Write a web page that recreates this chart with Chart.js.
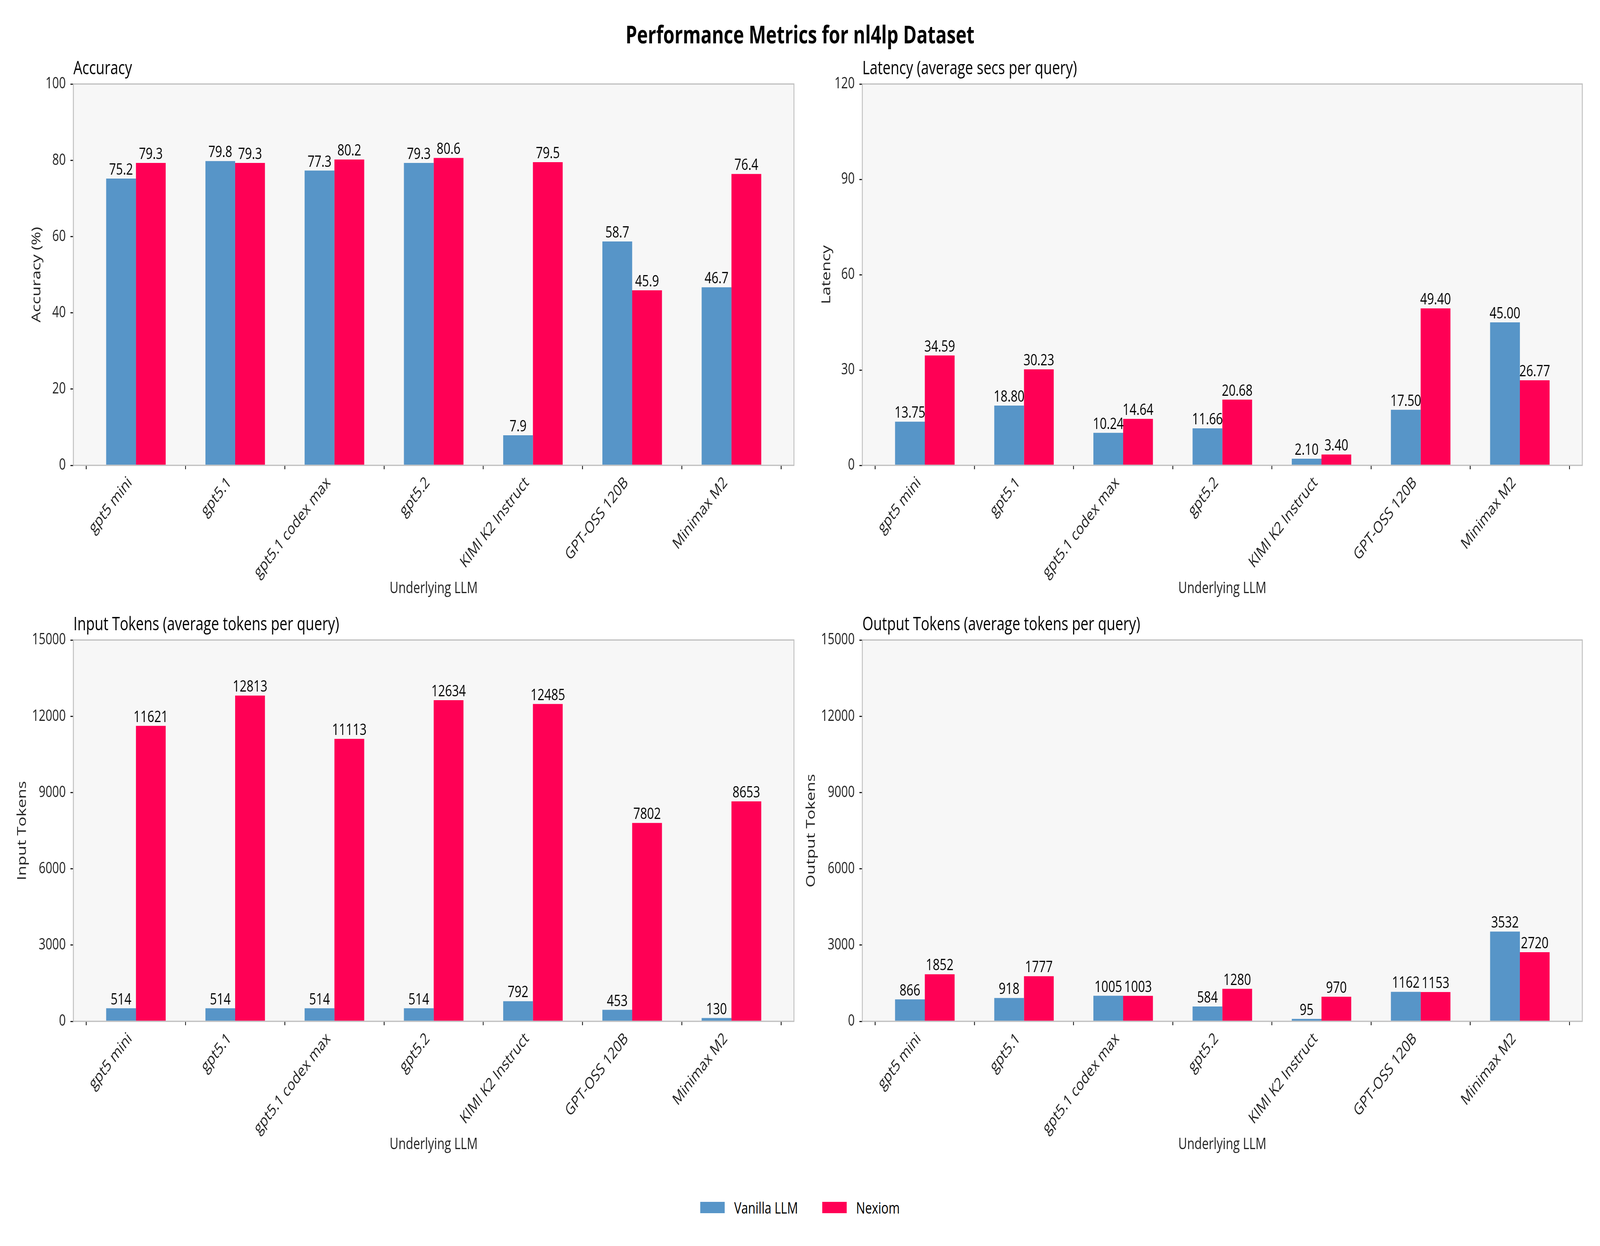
<!DOCTYPE html>
<html><head><meta charset="utf-8">
<script src="https://cdn.jsdelivr.net/npm/chart.js@4.4.1/dist/chart.umd.min.js"></script>
<style>
html,body{margin:0;padding:0;background:#fff;overflow:hidden;font-family:'Open Sans',sans-serif;}
#wrap{position:absolute;left:0;top:0;width:5429px;height:3189px;transform-origin:0 0;background:#fff;}
#title{position:absolute;left:0;top:50px;width:5429px;text-align:center;font-weight:bold;font-size:62px;line-height:74px;color:#000;}
canvas{position:absolute;}
#legend{position:absolute;left:0;top:3060px;width:5429px;height:60px;display:flex;justify-content:center;align-items:center;font-size:41px;color:#000;}
.item{display:flex;align-items:center;margin:0 41px;}
.sw{width:83px;height:29px;margin-right:32px;}
</style></head><body>
<div id="wrap">
<div id="title">Performance Metrics for nl4lp Dataset</div>
<canvas id="c0" width="2714" height="1430" style="left:0px;top:130px;width:2714px;height:1430px"></canvas>
<canvas id="c1" width="2714" height="1430" style="left:2714px;top:130px;width:2714px;height:1430px"></canvas>
<canvas id="c2" width="2714" height="1430" style="left:0px;top:1553px;width:2714px;height:1430px"></canvas>
<canvas id="c3" width="2714" height="1430" style="left:2714px;top:1553px;width:2714px;height:1430px"></canvas>
<div id="legend">
  <div class="item"><div class="sw" style="background:#5795C8"></div><span>Vanilla LLM</span></div>
  <div class="item"><div class="sw" style="background:#FF0055"></div><span>Nexiom</span></div>
</div>
</div>
<script>
// ---- data ----
const models = ["gpt5 mini", "gpt5.1", "gpt5.1 codex max", "gpt5.2", "KIMI K2 Instruct", "GPT-OSS 120B", "Minimax M2"];
const seriesNames = ["Vanilla LLM", "Nexiom"];

const accuracyVanilla = [75.2, 79.8, 77.3, 79.3, 7.9, 58.7, 46.7];
const accuracyNexiom  = [79.3, 79.3, 80.2, 80.6, 79.5, 45.9, 76.4];

const latencyVanilla = [13.75, 18.80, 10.24, 11.66, 2.10, 17.50, 45.00];
const latencyNexiom  = [34.59, 30.23, 14.64, 20.68, 3.40, 49.40, 26.77];

const inputVanilla = [514, 514, 514, 514, 792, 453, 130];
const inputNexiom  = [11621, 12813, 11113, 12634, 12485, 7802, 8653];

const outputVanilla = [866, 918, 1005, 584, 95, 1162, 3532];
const outputNexiom  = [1852, 1777, 1003, 1280, 970, 1153, 2720];

const accuracyTicks = [0, 20, 40, 60, 80, 100];
const latencyTicks = [0, 30, 60, 90, 120];
const tokenTicks = [0, 3000, 6000, 9000, 12000, 15000];

// ---- fit the 5429x3189 design to the actual viewport ----
const VW = window.innerWidth || 5429, VH = window.innerHeight || 3189;
const SX = VW / 5429, SY = VH / 3189;
const wrap = document.getElementById('wrap');
wrap.style.transform = 'scale(' + SX + ',' + SY + ')';
document.documentElement.style.width = VW + 'px';
document.documentElement.style.height = VH + 'px';
document.body.style.width = VW + 'px';
document.body.style.height = VH + 'px';

// ---- styles ----
const BLUE = '#5795C8', RED = '#FF0055';
Chart.defaults.font.family = "'Open Sans', sans-serif";
Chart.defaults.color = '#222';
Chart.defaults.animation = false;

const framePlugin = {
  id: 'frame',
  beforeDraw(chart) {
    const a = chart.chartArea, ctx = chart.ctx;
    ctx.save(); ctx.fillStyle = '#F7F7F7';
    ctx.fillRect(a.left, a.top, a.right - a.left, a.bottom - a.top);
    ctx.restore();
  },
  afterDatasetsDraw(chart) {
    const a = chart.chartArea, ctx = chart.ctx;
    ctx.save(); ctx.strokeStyle = '#BDBDBD'; ctx.lineWidth = 3;
    ctx.strokeRect(a.left, a.top, a.right - a.left, a.bottom - a.top);
    ctx.restore();
  }
};
const labelPlugin = {
  id: 'valueLabels',
  afterDatasetsDraw(chart, args, opts) {
    const ctx = chart.ctx;
    ctx.save();
    ctx.font = "41px 'Open Sans', sans-serif";
    ctx.fillStyle = '#000'; ctx.textAlign = 'center'; ctx.textBaseline = 'alphabetic';
    chart.data.datasets.forEach((ds, di) => {
      chart.getDatasetMeta(di).data.forEach((el, i) => {
        const v = ds.data[i].y;
        ctx.fillText(v.toFixed(opts.decimals), el.x, el.y - 10);
      });
    });
    // subplot title
    ctx.font = "48px 'Open Sans', sans-serif";
    ctx.textAlign = 'left';
    ctx.fillText(opts.title, chart.chartArea.left, chart.chartArea.top - 25);
    ctx.restore();
  }
};

function makeChart(id, title, yTitle, tickVals, van, nex, decimals, yWidth, yTitlePad, padRight) {
  const toPts = arr => arr.map((v, i) => ({x: i, y: v}));
  new Chart(document.getElementById(id), {
    type: 'bar',
    data: {
      datasets: [
        {label: seriesNames[0], data: toPts(van), backgroundColor: BLUE, borderWidth: 0},
        {label: seriesNames[1], data: toPts(nex), backgroundColor: RED, borderWidth: 0}
      ]
    },
    options: {
      responsive: false,
      devicePixelRatio: 1,
      animation: false,
      layout: {padding: {top: 85, left: 0, right: padRight, bottom: 0}},
      datasets: {bar: {categoryPercentage: 0.6, barPercentage: 1.0}},
      plugins: {
        legend: {display: false}, tooltip: {enabled: false}, title: {display: false},
        valueLabels: {decimals: decimals, title: title}
      },
      scales: {
        x: {
          type: 'linear', offset: false,
          min: -0.63, max: models.length - 1 + 0.63,
          afterBuildTicks: s => { s.ticks = models.map((m, i) => ({value: i})); },
          afterFit: s => { s.height = 369; },
          grid: {display: true, drawOnChartArea: false, drawTicks: true, tickLength: 10, tickColor: '#222', lineWidth: 3},
          border: {display: false},
          ticks: {
            autoSkip: false, maxRotation: 45, minRotation: 45, padding: 10, labelOffset: -20,
            font: {size: 42}, color: '#222',
            callback: v => models[v]
          },
          title: {display: true, text: 'Underlying LLM', font: {size: 41}, color: '#222', padding: {top: 0, bottom: 29}}
        },
        y: {
          min: tickVals[0], max: tickVals[tickVals.length - 1],
          afterBuildTicks: s => { s.ticks = tickVals.map(v => ({value: v})); },
          afterFit: s => { s.width = yWidth; },
          grid: {display: true, drawOnChartArea: false, drawTicks: true, tickLength: 10, tickColor: '#222', lineWidth: 3},
          border: {display: false},
          ticks: {padding: 16, font: {size: 40}, color: '#222', callback: v => String(v)},
          title: {display: true, text: yTitle, font: {size: 42}, color: '#222', padding: {top: yTitlePad, bottom: 0}}
        }
      }
    },
    plugins: [framePlugin, labelPlugin]
  });
}

makeChart('c0', 'Accuracy', 'Accuracy (%)', accuracyTicks, accuracyVanilla, accuracyNexiom, 1, 249, 100, 20);
makeChart('c1', 'Latency (average secs per query)', 'Latency', latencyTicks, latencyVanilla, latencyNexiom, 2, 212, 66, 59);
makeChart('c2', 'Input Tokens (average tokens per query)', 'Input Tokens', tokenTicks, inputVanilla, inputNexiom, 0, 249, 51, 20);
makeChart('c3', 'Output Tokens (average tokens per query)', 'Output Tokens', tokenTicks, outputVanilla, outputNexiom, 0, 212, 14, 59);
</script>
</body></html>
